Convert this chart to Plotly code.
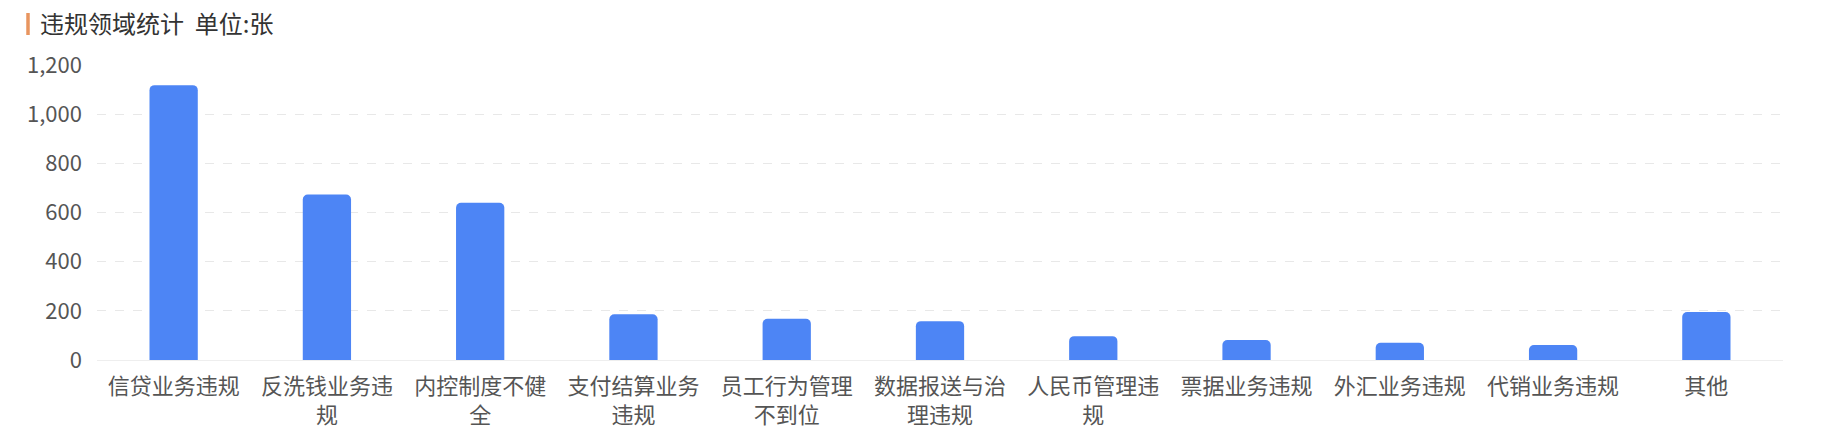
import plotly.graph_objects as go

categories = ["信贷业务违规", "反洗钱业务违规", "内控制度不健全", "支付结算业务违规",
              "员工行为管理不到位", "数据报送与治理违规", "人民币管理违规", "票据业务违规",
              "外汇业务违规", "代销业务违规", "其他"]
values = [1118, 673, 640, 186, 168, 158, 97, 81, 70, 61, 195]
y_ticks = [0, 200, 400, 600, 800, 1000, 1200]
y_tick_labels = ["0", "200", "400", "600", "800", "1,000", "1,200"]
title_text = "违规领域统计&nbsp;&nbsp;单位:张"


def wrap(label, n=6):
    parts = [label[i:i + n] for i in range(0, len(label), n)]
    return "<br>".join(parts)


W, H = 1822, 444
OFF = 8  # page body margin
L, R, T, B = 97 - OFF, 39 + OFF, 65 - OFF, 84 + OFF
FONT = "Noto Sans CJK SC"

fig = go.Figure(go.Bar(
    x=[wrap(c) for c in categories],
    y=values,
    marker=dict(color="#4D85F5", line=dict(width=0)),
    hoverinfo="x+y",
))

fig.update_layout(
    width=W, height=H,
    margin=dict(l=L, r=R, t=T, b=B),
    paper_bgcolor="white",
    plot_bgcolor="white",
    bargap=0.685,
    barcornerradius=5,
    showlegend=False,
    font=dict(family=FONT, size=22, color="#555555"),
    title=dict(
        text=title_text,
        x=(40 - OFF) / W, xanchor="left",
        y=1 - (25 - OFF) / H, yanchor="middle",
        font=dict(family=FONT, size=24, color="#333333"),
    ),
)

fig.update_xaxes(
    type="category",
    showgrid=False,
    showline=True, linecolor="#EEEEEE", linewidth=1,
    ticks="", ticklabelstandoff=7,
    tickfont=dict(family=FONT, size=22, color="#555555"),
    fixedrange=True,
)

fig.update_yaxes(
    range=[0, 1200],
    tickvals=y_ticks, ticktext=y_tick_labels,
    showgrid=True, gridcolor="#E8E8E8", griddash="dash", gridwidth=1,
    zeroline=False, showline=False,
    ticks="", ticklabelstandoff=14,
    tickfont=dict(family=FONT, size=22, color="#555555"),
    fixedrange=True,
)

# orange accent bar beside the title
plot_w = W - L - R
plot_h = H - T - B
fig.add_shape(
    type="line", xref="paper", yref="paper",
    x0=(28 - OFF - L) / plot_w, x1=(28 - OFF - L) / plot_w,
    y0=1 + (T - (13 - OFF)) / plot_h, y1=1 + (T - (35 - OFF)) / plot_h,
    line=dict(color="#E8955F", width=3.5),
)

fig.write_html("out.html")
